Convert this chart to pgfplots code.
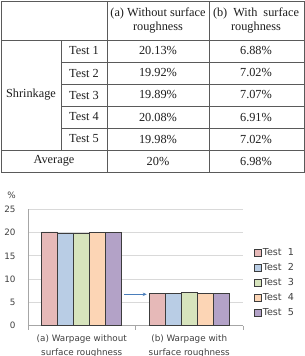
\documentclass[border=0pt]{standalone}
\usepackage{pgfplots}
\pgfplotsset{compat=1.18}
\usetikzlibrary{arrows.meta}
\usepackage{fontspec}
\setmainfont{Liberation Serif}
\newfontfamily\chartfont{DejaVu Sans}

\definecolor{tbl}{HTML}{5A5A5A}
\definecolor{txt}{HTML}{1E1E1E}
\definecolor{ctxt}{HTML}{404040}
\definecolor{gridc}{HTML}{D9D9D9}
\definecolor{axc}{HTML}{A6A6A6}
\definecolor{barline}{HTML}{3C3C3C}
\definecolor{cA}{HTML}{E6B9B8}
\definecolor{cB}{HTML}{B9CDE5}
\definecolor{cC}{HTML}{D7E4BD}
\definecolor{cD}{HTML}{FCD5B5}
\definecolor{cE}{HTML}{B3A2C7}
\definecolor{arrowc}{HTML}{4A7EBB}

\newcommand{\tabfont}{\fontsize{12.3}{14}\selectfont}
\newcommand{\cfont}{\chartfont\fontsize{8.8}{14}\selectfont}
\newcommand{\lfont}{\chartfont\fontsize{9.6}{11}\selectfont}

\begin{document}
\begin{tikzpicture}
% the page is exactly this region
\useasboundingbox (0pt,0pt) rectangle (305pt,356pt);
\clip (0pt,0pt) rectangle (305pt,356pt);

\begin{scope}[x=1pt,y=1pt]
% ---- shrinkage table ----
\begin{scope}[tbl, line width=0.9pt]
  \draw (1,184) rectangle (304,355);
  \draw (1,316) -- (304,316);
  \draw (1,206) -- (304,206);
  \foreach \yy in {294,272,250,228} \draw (61,\yy) -- (304,\yy);
  \draw (107,184) -- (107,355);
  \draw (209,184) -- (209,355);
  \draw (61,206) -- (61,316);
\end{scope}
\begin{scope}[every node/.style={font=\tabfont, text=txt, inner sep=0pt}]
  \node at (158,343) {(a) Without surface};
  \node at (158,328) {roughness};
  \node at (256,343) {\makebox[86pt][s]{(b) With surface}};
  \node at (256,328) {roughness};
  \node at (31,261) {Shrinkage};
  \node at (84,305) {Test 1};
  \node at (84,283) {Test 2};
  \node at (84,261) {Test 3};
  \node at (84,239) {Test 4};
  \node at (84,217) {Test 5};
  \node at (54,195) {Average};
  \node at (158,305) {20.13\%};
  \node at (158,283) {19.92\%};
  \node at (158,261) {19.89\%};
  \node at (158,239) {20.08\%};
  \node at (158,217) {19.98\%};
  \node at (158,195) {20\%};
  \node at (256,305) {6.88\%};
  \node at (256,283) {7.02\%};
  \node at (256,261) {7.07\%};
  \node at (256,239) {6.91\%};
  \node at (256,217) {7.02\%};
  \node at (256,195) {6.98\%};
\end{scope}
\node[font=\cfont, text=ctxt, inner sep=0pt] at (11.5,161) {\%};
\end{scope}

% ---- warpage bar chart ----
\begin{axis}[
  at={(28pt,30.3pt)}, anchor=south west,
  scale only axis, width=215pt, height=116.4pt,
  clip=false,
  xmin=0, xmax=2, ymin=0, ymax=25,
  axis x line*=bottom, axis y line*=left,
  axis line style={axc, line width=0.8pt},
  ytick={0,5,10,15,20,25},
  ymajorgrids, grid style={gridc, line width=0.8pt},
  xtick={0,1,2}, xticklabels={},
  tick align=outside,
  x tick style={axc, line width=0.8pt},
  y tick style={draw=none},
  major tick length=4pt,
  /pgf/number format/assume math mode=true,
  yticklabel style={font=\cfont, text=ctxt, xshift=-5pt},
  ybar=0pt, bar width=16pt,
  every axis plot/.append style={draw=barline, line width=0.7pt},
  legend image code/.code={\draw[#1, line width=0.6pt] (0pt,-3.5pt) rectangle (7pt,3.5pt);},
  legend style={at={(1.0512,0.672)}, anchor=north west, draw=none, fill=none,
    font=\lfont, text=ctxt, inner sep=0pt, row sep=4.5pt,
    nodes={inner sep=1pt, text height=7pt, text depth=1.5pt}},
  legend cell align=left,
]
\addplot[fill=cA] coordinates {(0.5,20.13) (1.5,6.88)};
\addplot[fill=cB] coordinates {(0.5,19.92) (1.5,7.02)};
\addplot[fill=cC] coordinates {(0.5,19.89) (1.5,7.07)};
\addplot[fill=cD] coordinates {(0.5,20.08) (1.5,6.91)};
\addplot[fill=cE] coordinates {(0.5,19.98) (1.5,7.02)};
\legend{Test\ \ 1, Test\ \ 2, Test\ \ 3, Test\ \ 4, Test\ \ 5}

\draw[-{Stealth[length=4pt,width=3.5pt]}, arrowc, line width=0.8pt]
  (axis cs:0.893,6.74) -- (axis cs:1.104,6.74);

\node[font=\cfont, text=ctxt, align=center, anchor=north, inner sep=0pt]
  at ([yshift=-9pt]axis cs:0.5,0) {(a) Warpage without\\surface roughness};
\node[font=\cfont, text=ctxt, align=center, anchor=north, inner sep=0pt]
  at ([yshift=-9pt]axis cs:1.5,0) {(b) Warpage with\\surface roughness};
\end{axis}
\end{tikzpicture}
\end{document}
